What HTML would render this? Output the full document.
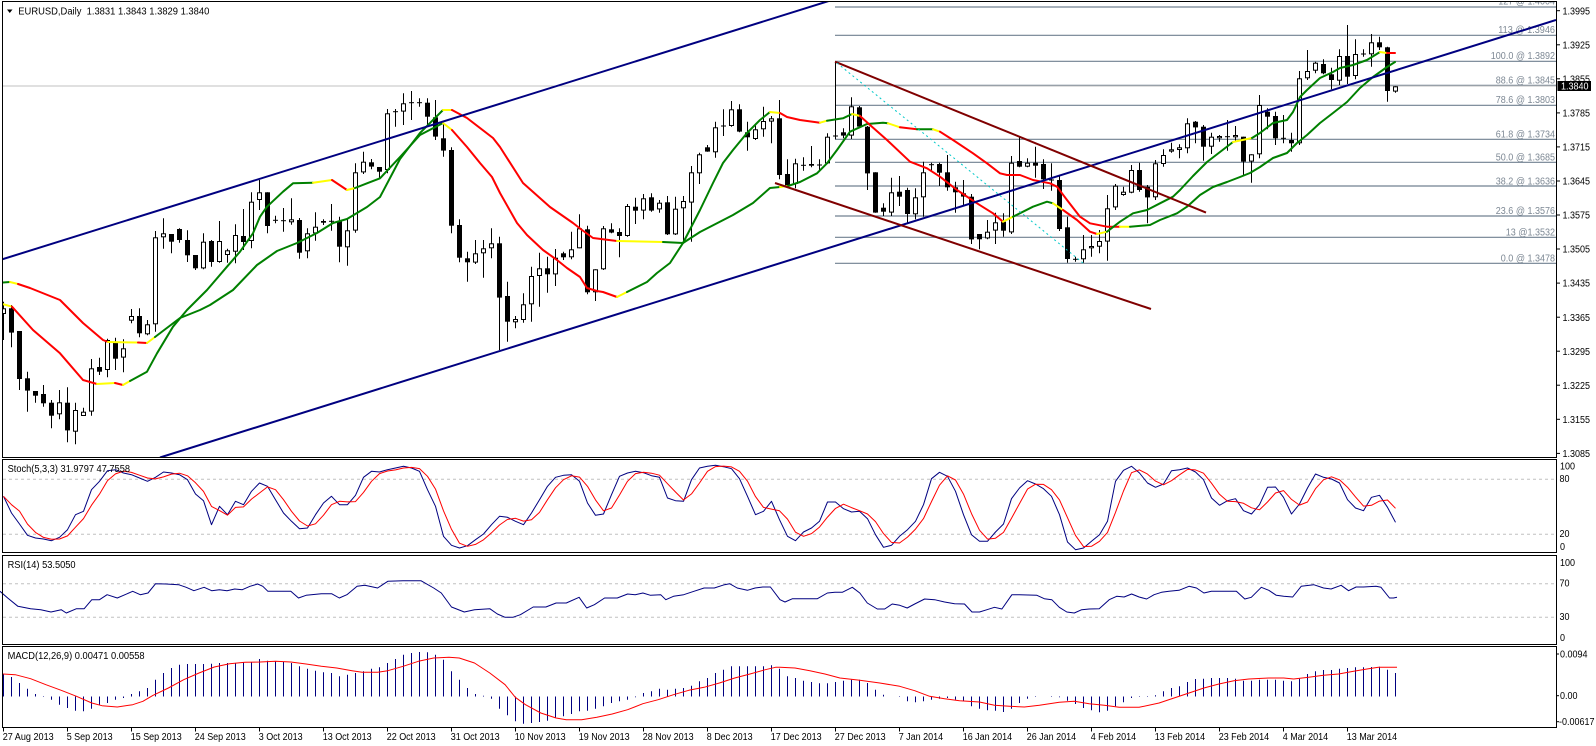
<!DOCTYPE html>
<html><head><meta charset="utf-8">
<style>
html,body{margin:0;padding:0;background:#fff;}
svg{display:block;}
text{font-family:"Liberation Sans",Arial,sans-serif;font-size:10px;}
</style></head>
<body>
<svg id="c" xmlns="http://www.w3.org/2000/svg" width="1596" height="746" viewBox="0 0 1596 746"></svg>
<script>
(function(){
const out=[];
const P=n=>Math.round(n*10)/10;
function L(x1,y1,x2,y2,c,w,ex){out.push('<line x1="'+P(x1)+'" y1="'+P(y1)+'" x2="'+P(x2)+'" y2="'+P(y2)+'" stroke="'+c+'" stroke-width="'+(w||1)+'"'+(ex?' '+ex:'')+'/>');}
function PL(pts,c,w,ex){out.push('<polyline points="'+pts.map(p=>P(p[0])+','+P(p[1])).join(' ')+'" fill="none" stroke="'+c+'" stroke-width="'+(w||1)+'" stroke-linejoin="round"'+(ex?' '+ex:'')+'/>');}
function R(x,y,w,h,f,s,sw){out.push('<rect x="'+P(x)+'" y="'+P(y)+'" width="'+P(w)+'" height="'+P(h)+'" fill="'+f+'"'+(s?' stroke="'+s+'" stroke-width="'+(sw||1)+'"':'')+'/>');}
const CW={'0':556,'1':556,'2':556,'3':556,'4':556,'5':556,'6':556,'7':556,'8':556,'9':556,'.':278,',':278,' ':278,'@':1015,'(':333,')':333,'-':333,
A:667,B:667,C:722,D:722,E:667,F:611,G:778,H:722,I:278,J:500,K:667,L:556,M:833,N:722,O:778,P:667,Q:778,R:722,S:667,T:611,U:722,V:667,W:944,X:667,Y:667,Z:611,
a:556,b:556,c:500,d:556,e:556,f:278,g:556,h:556,i:222,j:222,k:500,l:222,m:833,n:556,o:556,p:556,q:556,r:333,s:500,t:278,u:556,v:500,w:722,x:500,y:500,z:500};
function tw(s){let u=0;for(const ch of s){u+=(CW[ch]||556);}return u*9/1000;}
function T(x,y,s,o){o=o||{};const len=o.len||tw(s.replace(/&#160;/g,' '));
out.push('<text x="'+P(x)+'" y="'+P(y)+'" fill="'+(o.color||'#000')+'" text-anchor="'+(o.anchor||'start')+'" textLength="'+P(len)+'" lengthAdjust="spacingAndGlyphs" font-size="'+(o.size||10)+'">'+s+'</text>');}

out.push('<defs><clipPath id="cm"><rect x="3" y="2" width="1553" height="455"/></clipPath></defs>');
R(0,0,1596,746,'#fff');

/* ===== main chart ===== */
out.push('<g clip-path="url(#cm)">');
// fib lines
const fib=[[7,'127 @ 1.4004',4.5],[35.3,'113 @ 1.3946',33],[61.3,'100.0 @ 1.3892',59],[85.3,'88.6 @ 1.3845',83.3],[105.3,'78.6 @ 1.3803',103],[139.3,'61.8 @ 1.3734',137.3],[162.3,'50.0 @ 1.3685',160.7],[186,'38.2 @ 1.3636',184.3],[216,'23.6 @ 1.3576',214],[237.3,'13 @1.3532',235.7],[263.3,'0.0 @ 1.3478',261.7]];
fib.forEach(f=>{L(835,f[0],1556,f[0],'#708090',1.2);});
fib.forEach(f=>{T(1555,f[2],f[1],{anchor:'end',color:'#7d8894'});});
// current price line
L(3,86,1556,86,'#c0c0c0',1);

// candles
const A=[['w',745,762,725,840],['b',745,818,735,862],['b',813,957,813,990],['b',955,992,935,1055],['b',993,1007,993,1028],['b',1002,1030,975,1040],['b',1028,1067,1020,1105],['w',1027,1063,990,1078],['b',1028,1111,982,1147],['w',1050,1115,1028,1153],
['w',1055,1068,1043,1068],['w',925,1055,897,1067],['b',921,935,893,945],['w',840,930,836,952],['b',845,896,833,930],['w',865,893,838,937],['w',768,782,747,790],['b',768,820,745,832],['w',793,823,780,826],['w',532,793,513,815],
['w',520,532,475,566],['b',522,545,522,580],['b',507,540,505,548],['b',540,586,511,606],['b',585,625,585,630],['w',545,625,520,628],['b',543,606,540,620],['w',543,606,483,608],['w',571,585,566,608],['w',525,575,493,610],
['b',528,546,447,570],['w',425,543,397,565],['w',397,420,360,450],['b',397,498,397,520],['d',481,481,467,490],['d',482,482,444,515],['w',478,487,415,494],['b',480,578,474,596],['w',520,574,505,595],['w',500,520,457,542],
['b',483,488,478,495],['d',484,484,432,512],['b',483,560,470,607],['w',511,562,477,617],['w',337,512,310,518],['w',305,337,275,342],['b',307,320,297,328],['b',321,335,321,355],['w',160,330,147,340],['d',155,155,147,200]];
const B=[['w',130,155,100,195],['d',128,128,93,180],['d',128,128,115,140],['b',128,170,115,200],['b',172,230,120,240],['b',235,272,190,290],['b',270,497,262,520],['b',495,593,478,607],['b',595,607,575,665],['w',580,608,540,612],
['w',565,580,540,653],['w',550,565,505,595],['b',550,713,530,870],['b',708,785,665,845],['w',777,787,768,805],['w',733,780,700,788],['w',648,733,620,785],['w',625,648,578,740],['b',625,643,590,698],['w',593,643,567,678],
['b',580,592,575,600],['w',568,592,515,598],['w',505,565,463,565],['b',508,697,497,703],['w',628,697,628,723],['w',505,628,498,630],['b',508,518,490,520],['b',516,528,505,592],['w',438,528,432,530],['b',440,452,413,492],
['w',415,452,402,478],['b',412,452,400,455],['w',428,448,420,458],['b',427,523,408,525],['w',446,523,410,525],['w',423,445,408,545],['w',337,428,318,545],['w',283,340,278,372],['b',262,275,255,275],['w',202,277,185,293],
['d',198,198,148,228],['w',148,198,123,200],['b',148,215,133,217],['b',217,232,185,272],['w',208,237,193,240],['w',183,208,140,230],['w',175,185,168,250],['b',175,345,120,358],['b',342,378,298,380],['w',310,372,296,385]];
const C=[['d',376,376,352,392],['b',372,377,318,382],['d',375,375,358,392],['w',290,370,280,372],['d',288,288,65,298],['b',277,287,265,295],['w',199,287,172,297],['b',202,260,198,265],['b',260,400,258,450],['b',397,518,397,518],
['b',503,515,490,528],['w',457,518,413,528],['b',455,470,408,498],['b',450,522,443,552],['w',472,523,445,538],['w',397,472,365,530],['d',374,374,368,392],['b',372,398,368,438],['b',397,442,345,452],['b',442,457,425,518],
['b',460,470,420,498],['b',470,598,462,612],['b',582,598,582,628],['w',575,595,540,598],['w',547,572,518,612],['b',545,572,520,590],['w',368,577,348,582],['b',363,380,288,382],['w',368,380,355,382],['b',368,377,320,413],
['b',372,418,358,447],['d',420,420,370,452],['b',420,567,408,573],['b',562,657,530,668],['d',658,658,650,665],['w',628,658,585,668],['w',618,625,585,650],['w',603,620,570,640],['w',505,605,465,662],['w',437,502,432,510],
['w',455,465,440,467],['w',390,458,375,460],['b',390,450,368,455],['b',440,472,435,550],['w',370,472,360,480],['w',345,372,328,380],['w',328,335,308,338],['w',322,330,313,355]];
const D=[['w',340,415,325,430],['b',335,352,333,400],['b',350,410,345,452],['w',380,410,368,432],['w',378,385,375,395],['d',380,380,330,422],['w',375,382,348,392],['b',380,455,380,495],['w',433,455,433,518],['w',285,433,255,445],
['b',305,320,295,358],['b',318,385,305,405],['d',385,385,315,400],['b',390,400,368,425],['w',205,400,183,405],['w',183,205,120,210],['w',158,182,155,190],['b',162,190,148,193],['b',193,210,173,238],['w',138,212,118,225],
['b',138,200,45,222],['w',132,198,88,208],['d',132,132,118,140],['w',97,133,72,170],['b',97,112,80,120],['b',112,243,110,275],['w',229,245,229,248]];
[[0,60,A],[50,60,B],[100,40,C],[148,10,D]].forEach(function(s){
  s[2].forEach(function(d,i){
    const k=s[0]+i,cx=3.5+8*k,off=s[1];
    const bt=off+d[1]/3,bb=off+d[2]/3,wt=off+d[3]/3,wb=off+d[4]/3;
    L(cx,wt,cx,wb,'#000',1);
    if(d[0]==='d'||bb-bt<1.2){L(cx-2.5,bt,cx+2.5,bt,'#000',1);}
    else if(d[0]==='b'){R(cx-2.5,bt,5,bb-bt,'#000');}
    else {R(cx-2,bt+0.5,4,Math.max(1,bb-bt-1),'#fff','#000',1);}
  });
});

// moving averages
const col={g:'#008000',r:'#ff0000',y:'#ffff00'};
function MA(pts){
  let run=[pts[0]],c=pts[0][2];
  for(let i=1;i<pts.length;i++){
    run.push(pts[i]);
    const nc=pts[i][2];
    if(nc!==c||i===pts.length-1){PL(run,col[c],2,'stroke-linecap="round"');run=[pts[i]];c=nc;}
  }
}
const MA_A=[[0,282.7,'g'],[10,282,'y'],[18,284,'r'],[30,288,'r'],[60,300,'r'],[83,323,'r'],[103,340,'r'],[108,342,'y'],[138,342.5,'r'],[147,343,'y'],[155,337,'g'],[180,318,'g'],[200,310,'g'],[210,305,'g'],[233,290,'g'],[257,265,'g'],[277,251,'g'],[297,243,'g'],[317,233,'g'],[333,223,'g'],[347,219,'g'],[357,213,'g'],[367,207,'g'],[380,197,'g'],[400,159,'g'],[420,133,'g'],[443,110,'y'],[452,110,'r'],[467,118,'r'],[493,138,'r'],[500,147,'r'],[523,183,'r'],[550,207,'r'],[573,223,'r'],[582,230,'r'],[593,238,'r'],[617,241,'y'],[663,242,'g'],[683,243,'g'],[700,232,'g'],[733,215,'g'],[753,203,'g'],[770,188,'g'],[780,187,'y'],[788,186,'g'],[800,182,'g'],[817,173.3,'g'],[827,163.3,'g'],[837,150,'g'],[850,131.7,'g'],[867,124,'g'],[883,122.7,'g'],[888,123.3,'y'],[900,127.3,'r'],[917,129.3,'g'],[933,129.3,'y'],[940,131.7,'r'],[953,140,'r'],[973,153.3,'r'],[987,163.3,'r'],[1000,173.3,'r'],[1007,175,'r'],[1020,175,'r'],[1033,180,'r'],[1050,183.3,'r'],[1057,186.7,'r'],[1067,200,'r'],[1080,216.7,'r'],[1090,223.3,'r'],[1107,226.7,'r'],[1120,226.7,'y'],[1130,226.7,'g'],[1150,225,'g'],[1160,220,'g'],[1177,213.3,'g'],[1187,206.7,'g'],[1200,195,'g'],[1213,187,'g'],[1227,182,'g'],[1240,177,'g'],[1250,173,'g'],[1260,167,'g'],[1273,158,'g'],[1287,153,'g'],[1297,143,'g'],[1307,135,'g'],[1320,123,'g'],[1333,113,'g'],[1347,102,'g'],[1360,88,'g'],[1373,77,'g'],[1387,67,'g'],[1395,62,'g']];
const MA_B=[[0,303.3,'y'],[12,306.7,'r'],[33,330,'r'],[60,353.3,'r'],[83,380,'r'],[97,384,'y'],[115,383,'r'],[123,385,'y'],[130,381,'g'],[147,371.7,'g'],[157,353.3,'g'],[173,326.7,'g'],[187,310,'g'],[207,290,'g'],[227,266.7,'g'],[240,251.7,'g'],[253,233.3,'g'],[260,216.7,'g'],[267,206.7,'g'],[283,191.7,'g'],[293,183.3,'g'],[313,182.7,'y'],[332,180,'r'],[347,190,'y'],[355,188,'g'],[367,183.3,'g'],[380,178.3,'g'],[400,157,'g'],[420,135,'g'],[443,123,'y'],[452,130,'r'],[467,147,'r'],[480,163,'r'],[492,177,'r'],[500,193,'r'],[517,223,'r'],[527,235,'r'],[543,250,'r'],[557,260,'r'],[567,268,'r'],[580,277,'r'],[587,288,'r'],[597,291,'r'],[603,292,'r'],[617,297,'y'],[627,292,'g'],[647,282,'g'],[657,273,'g'],[670,263,'g'],[683,243,'g'],[700,210,'g'],[713,183,'g'],[723,163,'g'],[733,150,'g'],[747,133,'g'],[760,120,'g'],[770,112,'y'],[780,113,'r'],[787,117,'r'],[800,120,'r'],[820,122.7,'y'],[827,120.7,'g'],[843,118.3,'g'],[852,114,'y'],[860,116,'r'],[870,125,'r'],[887,140,'r'],[910,161.7,'r'],[927,168.3,'r'],[940,176.7,'r'],[957,190,'r'],[977,203.3,'r'],[993,213.3,'r'],[1003,221.7,'y'],[1013,216.7,'g'],[1033,206.7,'g'],[1047,201.7,'g'],[1053,203.3,'y'],[1063,210,'r'],[1077,220,'r'],[1090,231.7,'r'],[1097,234,'y'],[1107,231.7,'g'],[1120,221.7,'g'],[1133,213.3,'g'],[1147,210,'g'],[1160,203.3,'g'],[1173,196.7,'g'],[1180,190,'g'],[1193,176,'g'],[1207,162,'g'],[1220,152,'g'],[1233,142,'y'],[1252,138,'g'],[1260,133,'g'],[1273,123,'g'],[1287,120,'g'],[1293,112,'g'],[1300,97,'g'],[1307,90,'g'],[1320,78,'g'],[1333,72,'g'],[1340,68,'g'],[1353,65,'g'],[1367,60,'g'],[1380,52,'y'],[1387,53,'r'],[1395,53,'r']];
MA(MA_A);MA(MA_B);

// channel lines
L(0,260,832,0,'#000080',2);
L(160,457.5,1556,20,'#000080',2);
L(835,61.7,1206,212.6,'#800000',2);
L(775,183,1151,309,'#800000',2);
L(837,63,1083,263,'#00c8c8',1,'stroke-dasharray="2,3"');
out.push('</g>');

// header
out.push('<polygon points="7,9.5 12.5,9.5 9.75,13" fill="#000"/>');
T(18.3,14.5,'EURUSD,Daily&#160;&#160;1.3831 1.3843 1.3829 1.3840',{len:191});

// price axis
for(let i=0;i<14;i++){
  const y=10.7+34.05*i;const v=(1.3995-0.007*i).toFixed(4);
  L(1556.5,y,1560,y,'#000',1);
  T(1562.5,y+3.6,v);
}
R(1557.5,81,33.5,10,'#000');
T(1561,89.5,'1.3840',{color:'#fff'});

/* ===== Stochastic ===== */
const ST=[115,165,198,232,240,243,248,238,215,170,160,95,70,38,35,45,50,60,70,58,42,45,50,65,108,128,200,145,170,130,140,100,75,85,125,165,190,212,210,170,135,115,140,140,112,58,40,42,35,30,25,30,40,95,145,235,262,270,263,245,228,200,175,178,190,200,165,125,85,58,52,50,70,135,172,168,110,55,45,40,44,53,58,120,128,130,65,30,25,22,26,32,62,115,170,160,130,185,235,248,
222,210,190,132,132,152,162,160,182,230,268,262,235,215,190,140,62,43,55,100,170,230,250,250,222,198,122,90,68,78,92,115,170,252,275,270,250,230,190,70,37,25,45,75,88,78,38,35,30,42,65,120,142,128,122,158,168,140,88,87,118,168,138,90,48,58,63,75,125,150,158,118,112,148,193];
L(3,479.3,1556,479.3,'#c0c0c0',1,'stroke-dasharray="3,3"');
L(3,534.3,1556,534.3,'#c0c0c0',1,'stroke-dasharray="3,3"');
const sb=ST.map((z,k)=>[3.5+8*k,458+z/3]);
const sr=ST.map((z,k)=>{const a=ST.slice(Math.max(0,k-2),k+1);return [3.5+8*k,458+a.reduce((s,v)=>s+v,0)/a.length/3];});
PL(sb,'#000080',1);
PL(sr,'#ff0000',1);
T(7.6,472,'Stoch(5,3,3) 31.9797 47.7558',{len:122.4});
T(1560,469.5,'100');T(1559.5,482.2,'80');T(1559.5,536.8,'20');T(1560,550.2,'0');

/* ===== RSI ===== */
L(3,583.7,1556,583.7,'#c0c0c0',1,'stroke-dasharray="3,3"');
L(3,617.3,1556,617.3,'#c0c0c0',1,'stroke-dasharray="3,3"');
const R9=[[0,400],[15,420],[35,445],[60,452],[80,455],[100,462],[120,455],[130,465],[150,452],[165,452],[180,425],[195,425],[210,410],[230,420],[245,410],[260,400],[275,410],[290,405],[305,377],[325,378],[350,380],[365,388],[380,398],[400,388],[415,398],[430,395],[445,398],[460,393],[475,395],[490,385],[505,378],[515,385],[525,400],[545,400],[570,400],[585,420],[600,412],[630,407],[650,407],[665,420],[680,410],[700,385],[715,382],[740,390],[760,370],[790,368],[825,368],[850,390],[865,405],[885,447],[910,462],[930,455],[960,452],[975,468],[990,478],[1005,478],[1020,470],[1045,447],[1070,447],[1090,435],[1110,435],[1135,418],[1150,450],[1165,440],[1185,420],[1210,420],[1230,408],[1245,410],[1260,405],[1275,412],[1295,410],[1305,425],[1320,415],[1340,410],[1360,400],[1380,390],[1400,390],[1420,380],[1430,377],[1445,390],[1465,397],[1480,390],[1495,387],[1510,387]];
const R10=[[0,425],[10,432],[25,422],[75,422],[95,405],[110,403],[125,403],[145,388],[160,405],[175,435],[195,453],[210,453],[225,438],[240,442],[255,450],[270,438],[290,423],[310,425],[330,432],[350,437],[370,438],[385,462],[400,462],[415,455],[430,448],[445,453],[465,410],[480,410],[515,412],[530,422],[545,425],[560,448],[575,462],[590,465],[605,455],[620,453],[640,452],[660,425],[675,415],[690,417],[705,408],[720,417],[735,423],[750,410],[765,403],[780,400],[800,397],[820,385],[835,390],[850,405],[865,400],[915,400],[932,423],[945,418],[965,388],[980,397],[995,412],[1010,415],[1028,417],[1045,385],[1070,380],[1090,390],[1105,393],[1125,382],[1140,398],[1155,387],[1170,387],[1195,385],[1205,388],[1222,420],[1230,420],[1237,418]];
const rsi=R9.map(p=>[p[0]/1.96,458+p[1]/3]).concat(R10.map(p=>[780+p[0]/2.005,458+p[1]/3]));
PL(rsi,'#000080',1);
T(7.6,568,'RSI(14) 53.5050',{len:68});
T(1560,566.2,'100');T(1559.5,586.3,'70');T(1559.5,620.2,'30');T(1560,640.8,'0');

/* ===== MACD ===== */
const MH=[648,657,675,692,708,714,725,740,750,758,760,752,740,735,725,720,708,700,690,665,645,630,620,618,618,618,617,615,615,615,613,612,603,608,610,612,615,625,632,638,643,645,655,650,645,640,632,628,615,603,590,585,582,583,590,605,640,665,690,708,713,722,752,772,790,797,795,792,788,780,775,768,760,758,752,745,735,730,725,718,705,700,692,695,692,690,683,670,660,645,635,625,625,625,625,625,622,632,655,660,
668,672,676,676,672,668,665,665,675,695,710,716,714,730,733,730,725,722,720,725,730,745,752,757,758,762,752,735,722,714,716,714,718,728,738,750,757,763,758,745,733,720,714,714,712,700,690,685,672,663,662,660,660,660,662,668,668,665,665,665,668,670,662,648,640,636,636,632,630,628,628,627,626,635,645];
const base=696.5;
MH.forEach((z,k)=>{const y=458+z/3;if(Math.abs(y-base)>0.4)L(3.5+8*k,base,3.5+8*k,y,'#000080',1);});
const M9=[[0,648],[30,650],[60,662],[90,680],[120,697],[150,715],[180,735],[200,743],[230,747],[260,740],[280,730],[300,712],[330,690],[360,665],[390,645],[420,627],[450,617],[480,613],[510,612],[540,610],[570,612],[600,618],[630,625],[660,630],[690,638],[710,643],[740,643],[760,638],[790,625],[820,610],[850,600],[880,598],[900,600],[930,615],[960,645],[990,680],[1010,718],[1030,740],[1060,765],[1090,780],[1110,785],[1140,785],[1170,778],[1200,768],[1230,755],[1260,737],[1290,725],[1320,710],[1350,697],[1380,688],[1410,675],[1440,660],[1470,648],[1500,635],[1520,628]];
const M10=[[0,628],[30,630],[60,638],[90,648],[120,660],[160,667],[200,675],[240,685],[270,698],[300,715],[330,722],[360,728],[400,732],[430,742],[460,745],[490,747],[520,742],[560,733],[590,730],[620,737],[650,742],[680,748],[720,748],[760,735],[790,720],[820,705],[850,690],[880,678],[910,668],[940,663],[980,660],[1010,660],[1030,663],[1060,658],[1090,652],[1120,648],[1150,640],[1180,632],[1200,628],[1237,628]];
const sig=M9.map(p=>[Math.max(3,p[0]/1.96),458+p[1]/3]).concat(M10.map(p=>[780+p[0]/2.005,458+p[1]/3]));
PL(sig,'#ff0000',1);
T(7.6,659,'MACD(12,26,9) 0.00471 0.00558',{len:137});
T(1560,657.5,'0.0094');T(1560,699.2,'0.00');T(1559,725.2,'-0.00617');
L(1556.5,654,1559,654,'#000',1);L(1556.5,695.7,1559,695.7,'#000',1);L(1556.5,721.7,1559,721.7,'#000',1);

/* ===== frames ===== */
const fr='fill="none" stroke="#000" stroke-width="1" shape-rendering="crispEdges"';
out.push('<rect x="2.5" y="1.5" width="1554" height="456" '+fr+'/>');
out.push('<rect x="2.5" y="459.5" width="1554" height="93" '+fr+'/>');
out.push('<rect x="2.5" y="555.5" width="1554" height="89" '+fr+'/>');
out.push('<rect x="2.5" y="646.5" width="1554" height="81" '+fr+'/>');

/* ===== date axis ===== */
const dates=['27 Aug 2013','5 Sep 2013','15 Sep 2013','24 Sep 2013','3 Oct 2013','13 Oct 2013','22 Oct 2013','31 Oct 2013','10 Nov 2013','19 Nov 2013','28 Nov 2013','8 Dec 2013','17 Dec 2013','27 Dec 2013','7 Jan 2014','16 Jan 2014','26 Jan 2014','4 Feb 2014','13 Feb 2014','23 Feb 2014','4 Mar 2014','13 Mar 2014'];
dates.forEach((d,i)=>{const x=3.5+64*i;L(x,727.5,x,731.5,'#000',1);T(x-0.8,740,d);});

document.getElementById('c').innerHTML=out.join('');
})();
</script>
</body></html>
